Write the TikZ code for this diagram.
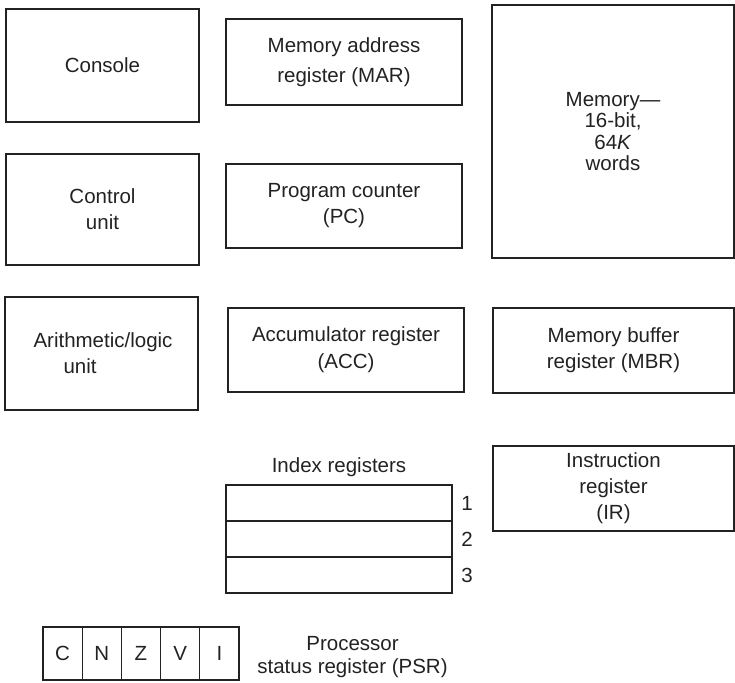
\documentclass[tikz,border=0pt]{standalone}
\usepackage{fontspec}
\setmainfont{Liberation Sans}
\definecolor{ink}{HTML}{222222}
\begin{document}
\begin{tikzpicture}[x=1pt,y=-1pt,
  every node/.style={text=ink},
  txt/.style={font=\fontsize{20.5}{26}\selectfont, align=center, inner sep=0pt},
  unitbox/.style={txt, draw=ink, line width=1.3pt, inner sep=0pt},
  cell/.style={draw=ink, line width=1.3pt, inner sep=0pt, minimum width=39.2pt, minimum height=53pt, font=\fontsize{20.5}{26}\selectfont}]
\useasboundingbox (0,0) rectangle (735,682);
% left column
\node[unitbox, minimum width=193pt, minimum height=113pt] (console) at (102.5,65.5) {Console};
\node[unitbox, minimum width=193pt, minimum height=111pt] (control) at (102.5,209.5) {Control\\unit};
\node[unitbox, minimum width=193pt, minimum height=113pt, align=left] (alu) at (101.5,353.5) {\hspace*{3pt}Arithmetic/logic\\\hspace*{33pt}unit};
% middle column
\node[unitbox, minimum width=236pt, minimum height=86pt, font=\fontsize{20.5}{30}\selectfont] (mar) at (344,62) {Memory address\\register (MAR)};
\node[unitbox, minimum width=236pt, minimum height=84pt] (pc) at (344,206) {Program counter\\(PC)};
\node[unitbox, minimum width=236pt, minimum height=84pt, font=\fontsize{20.5}{27}\selectfont] (acc) at (346,350) {Accumulator register\\(ACC)};
% right column
\node[unitbox, minimum width=242pt, minimum height=253pt, font=\fontsize{20.5}{21.5}\selectfont] (mem) at (613,131.5) {Memory---\\16-bit,\\64\textit{K}\\words};
\node[unitbox, minimum width=241pt, minimum height=85pt] (mbr) at (613.5,350.5) {Memory buffer\\register (MBR)};
\node[unitbox, minimum width=241pt, minimum height=85pt] (ir) at (613.5,488.5) {Instruction\\register\\(IR)};
% index registers
\node[txt] (idxlabel) at (339,467) {Index registers};
\node[unitbox, minimum width=226pt, minimum height=36pt] (x1) at (339,503) {};
\node[unitbox, minimum width=226pt, minimum height=36pt] (x2) at (339,539) {};
\node[unitbox, minimum width=226pt, minimum height=36pt] (x3) at (339,575) {};
\node[txt] (n1) at (467,503) {1};
\node[txt] (n2) at (467,539) {2};
\node[txt] (n3) at (467,575) {3};
% processor status register
\node[cell] (c) at (62.6,653.5) {C};
\node[cell] (n) at (101.8,653.5) {N};
\node[cell] (z) at (141,653.5) {Z};
\node[cell] (v) at (180.2,653.5) {V};
\node[cell] (i) at (219.4,653.5) {I};
\node[txt, font=\fontsize{20.5}{23}\selectfont] (psr) at (352.5,657.5) {Processor\\status register (PSR)};
\end{tikzpicture}
\end{document}
